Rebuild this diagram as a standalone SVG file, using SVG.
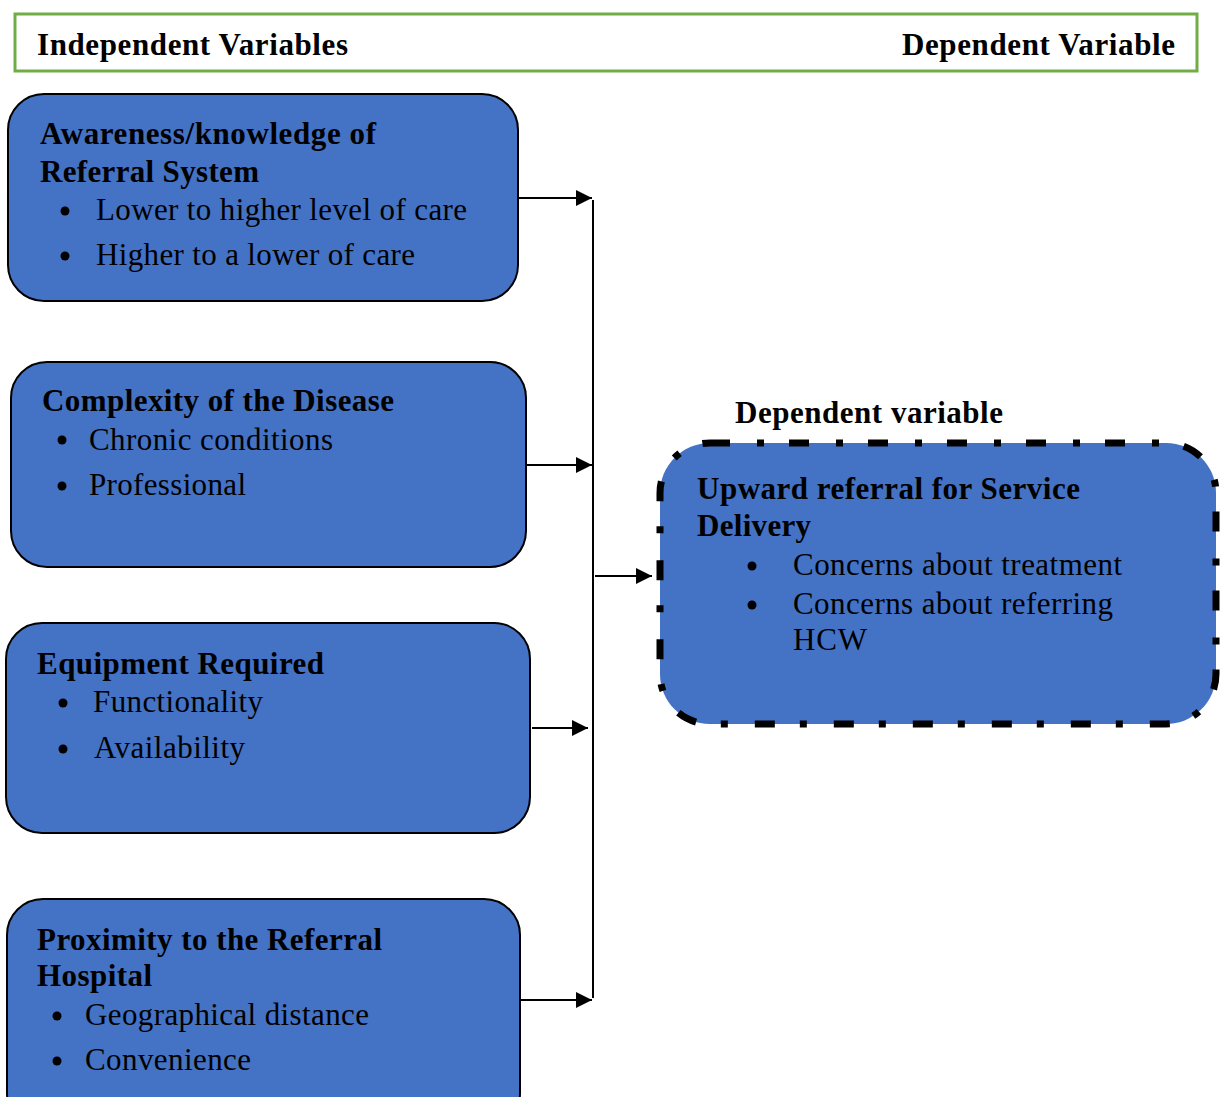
<svg xmlns="http://www.w3.org/2000/svg" width="1221" height="1097" viewBox="0 0 1221 1097">
<style>
.box{fill:#4472C4;stroke:#000;stroke-width:2}
.t{font-family:"Liberation Serif","Times New Roman",serif;font-size:31px;fill:#000}
.b{font-weight:bold}
.ln{stroke:#000;stroke-width:2;fill:none}
</style>
<defs>
<marker id="ah" markerWidth="16" markerHeight="16" refX="16" refY="8" orient="auto" markerUnits="userSpaceOnUse">
<path d="M0,0 L16,8 L0,16 Z" fill="#000"/>
</marker>
</defs>
<rect width="1221" height="1097" fill="#fff"/>
<g id="header">
<rect x="15" y="14" width="1182" height="57" fill="#fff" stroke="#70AD47" stroke-width="3"/>
<text class="t b" x="37" y="55" textLength="311">Independent Variables</text>
<text class="t b" x="902" y="55" textLength="273">Dependent Variable</text>
</g>
<g id="node-awareness">
<rect class="box" x="8" y="94" width="510" height="207" rx="36"/>
<text class="t b" x="40" y="144" textLength="336">Awareness/knowledge of</text>
<text class="t b" x="40" y="182" textLength="219">Referral System</text>
<circle cx="65" cy="211" r="4.5"/>
<text class="t" x="96" y="220" textLength="371">Lower to higher level of care</text>
<circle cx="65" cy="256" r="4.5"/>
<text class="t" x="96" y="265" textLength="319">Higher to a lower of care</text>
</g>
<g id="node-complexity">
<rect class="box" x="11" y="362" width="515" height="205" rx="36"/>
<text class="t b" x="42" y="411" textLength="352">Complexity of the Disease</text>
<circle cx="62" cy="440" r="4.5"/>
<text class="t" x="89" y="450" textLength="244">Chronic conditions</text>
<circle cx="62" cy="486" r="4.5"/>
<text class="t" x="89" y="495" textLength="157">Professional</text>
</g>
<g id="node-equipment">
<rect class="box" x="6" y="623" width="524" height="210" rx="36"/>
<text class="t b" x="37" y="674" textLength="287">Equipment Required</text>
<circle cx="63" cy="703" r="4.5"/>
<text class="t" x="93" y="712" textLength="170">Functionality</text>
<circle cx="63" cy="749" r="4.5"/>
<text class="t" x="94" y="758" textLength="151">Availability</text>
</g>
<g id="node-proximity">
<rect class="box" x="7" y="899" width="513" height="230" rx="36"/>
<text class="t b" x="37" y="950" textLength="345">Proximity to the Referral</text>
<text class="t b" x="37" y="986" textLength="115">Hospital</text>
<circle cx="57" cy="1016" r="4.5"/>
<text class="t" x="85" y="1025" textLength="284">Geographical distance</text>
<circle cx="57" cy="1061" r="4.5"/>
<text class="t" x="85" y="1070" textLength="166">Convenience</text>
</g>
<g id="label-dependent">
<text class="t b" x="735" y="423" textLength="268">Dependent variable</text>
</g>
<g id="node-upward">
<rect x="660" y="443" width="556" height="281" rx="50" fill="#4472C4" stroke="#000" stroke-width="7" stroke-dasharray="20 27 7 25"/>
<text class="t b" x="697" y="499" textLength="383">Upward referral for Service</text>
<text class="t b" x="697" y="536" textLength="114">Delivery</text>
<circle cx="752" cy="566" r="4.5"/>
<text class="t" x="793" y="575" textLength="329">Concerns about treatment</text>
<circle cx="752" cy="605" r="4.5"/>
<text class="t" x="793" y="614" textLength="320">Concerns about referring</text>
<text class="t" x="793" y="650" textLength="74">HCW</text>
</g>
<g id="connectors">
<line class="ln" x1="593" y1="200" x2="593" y2="998"/>
<line class="ln" x1="518" y1="198" x2="592" y2="198" marker-end="url(#ah)"/>
<line class="ln" x1="526" y1="465" x2="592" y2="465" marker-end="url(#ah)"/>
<line class="ln" x1="532" y1="728" x2="588" y2="728" marker-end="url(#ah)"/>
<line class="ln" x1="520" y1="1000" x2="592" y2="1000" marker-end="url(#ah)"/>
<line class="ln" x1="595" y1="576" x2="652" y2="576" marker-end="url(#ah)"/>
</g>
</svg>
